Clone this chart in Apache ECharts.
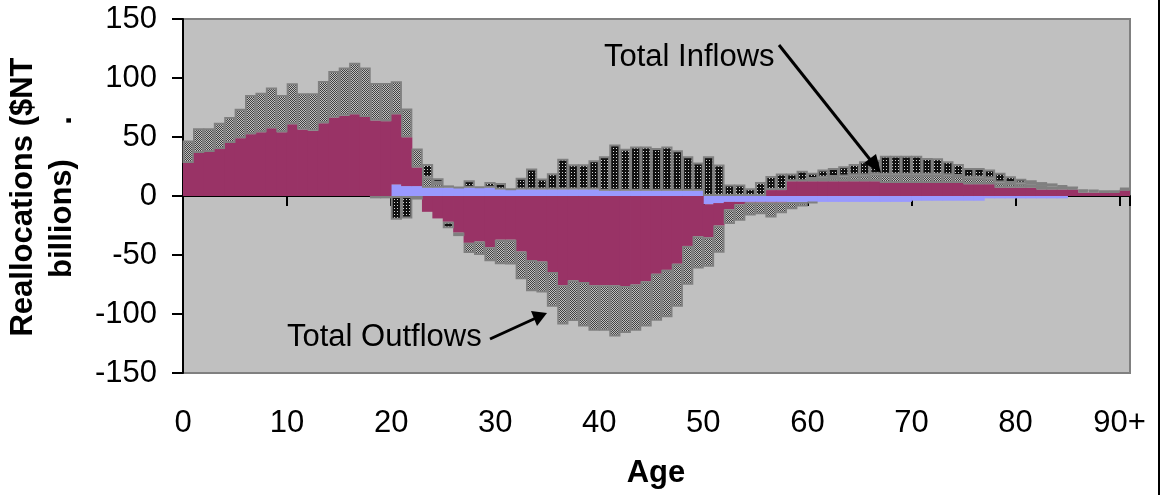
<!DOCTYPE html>
<html>
<head>
<meta charset="utf-8">
<script src="https://cdn.jsdelivr.net/npm/echarts@6/dist/echarts.min.js"></script>
<style>
html,body{margin:0;padding:0;background:#fff;}
#c{width:1161px;height:495px;}
</style>
</head>
<body>
<div id="c"></div>
<script>
// ---------------- data (ages 0..90) ----------------
const ages = Array.from({length: 91}, (_, i) => String(i));
const xTickLabels = ['0','10','20','30','40','50','60','70','80','90+'];
const yTicks = [-150, -100, -50, 0, 50, 100, 150];

// magenta component, inflows (+)
const magentaIn = [28,36.5,37.3,39.8,44.9,49,52.4,54,57.5,54,
  60.8,56.3,55.2,61.7,66.5,68,69.3,67,64,63.4,
  59.5,41.4,15.8,0,0,0,0,0,0,0,
  0,0,0,0,0,0,0,0,0,0,
  0,0,0,0,0,0,0,0,0,0,
  0,0,0,0,0,0,5,5,12.5,12.5,
  12.5,12.5,12.5,12.5,12.5,12.5,12.5,11,11,11,
  11,11,11,11,11,10,10,10,7,7,
  7,7,5.5,5.5,5.5,5.5,2.8,2.8,2.8,2.8,
  4.8];
// magenta component, outflows (-)
const magentaOut = [0,0,0,0,0,0,0,0,0,0,
  0,0,0,0,0,0,0,0,0,0,
  0,0,0,-13.4,-19,-21.8,-31,-39.7,-38.5,-43.4,
  -37,-37,-47,-54.3,-55.5,-64.4,-75.6,-71.4,-72.8,-75.6,
  -75.6,-75.6,-76.2,-75,-72.2,-65.8,-62.6,-57.4,-42.3,-34.1,
  -28,-19,-6.2,-2,-0.5,-0.5,-0.5,-0.5,0,0,
  0,0,0,0,0,0,0,0,0,0,
  0,0,0,0,0,0,0,0,0,0,
  0,0,0,0,0,0,0,0,0,0,
  0];
// blue component, inflows (+)
const blueIn = [0,0,0,0,0,0,0,0,0,0,
  0,0,0,0,0,0,0,0,0,0,
  9.8,8.4,8.4,7,7,7,7,7,7,7,
  5.5,5.5,5.5,5.5,5.5,5.5,5.5,5.5,5.5,5.5,
  4.5,4.5,4.5,4.5,4.5,4.5,4.5,4.5,4.5,4.5,
  0,0,0,0,0,0,0,0,0,0,
  0,0,0,0,0,0,0,0,0,0,
  0,0,0,0,0,0,0,0,0,0,
  0,0,0,0,0,0,0,0,0,0,
  0];
// blue component, outflows (-)
const blueOut = [0,0,0,0,0,0,0,0,0,0,
  0,0,0,0,0,0,0,0,0,0,
  0,0,0,0,0,0,0,0,0,0,
  0,0,0,0,0,0,0,0,0,0,
  0,0,0,0,0,0,0,0,0,0,
  -7,-6,-5,-5,-5,-5,-5,-5,-5,-5,
  -5,-5,-5,-5,-5,-5,-5,-5,-5,-5,
  -4,-4,-4,-4,-4,-4,-4,-2,-2,-2,
  -2,-2,-2,-2,-2,0,0,0,0,0,
  0];
// light checkered component, inflows (+)
const checkIn = [19,21,20.2,22.2,22.1,25,33.1,33.4,34.5,31.5,
  34.7,30.7,31.8,35.8,39.5,41,43.7,42,31.8,32.4,
  28,24.4,16.1,8.4,4,0,0,0,0,0,
  0,0,0,0,0,0,0,0,0,0,
  0,0,0,0,0,0,0,0,0,0,
  0,0,0,0,0,0,0,0,0,0,
  2,3,3.5,4,5,5,6,7,7,7,
  7,7,7,6.5,6,5.5,5.5,5,4.5,4,
  3.5,3,3,2.5,2.5,1.5,1.5,1.5,1,1,
  1];
// light checkered component, outflows (-)
const checkOut = [0,0,0,0,0,0,0,0,0,0,
  0,0,0,0,0,0,0,0,-2,-2,
  0,0,-3,0,0,0,-3,-8.5,-11.5,-12,
  -20.8,-21,-23.6,-26.5,-26.3,-29.4,-33.4,-34.6,-37.8,-38.7,
  -38.7,-43.4,-40,-39.3,-38.4,-40,-40.2,-36.4,-32.9,-27.3,
  -25,-23,-12.6,-14,-11,-9.9,-12.7,-9.1,-6.2,-4,
  -1,0,0,0,0,0,0,0,0,0,
  0,0,0,0,0,0,0,0,0,0,
  0,0,0,0,0,0,0,0,0,0,
  0];
// dark gridded component, inflows (+)
const gridIn = [0,0,0,0,0,0,0,0,0,0,
  0,0,0,0,0,0,0,0,0,0,
  0,0,0,11.8,4,2,0.5,6.3,1,4.8,
  5.5,0.5,9.9,17.8,9.3,13.7,26,21.4,21.4,24.8,
  29.1,39.2,35.5,37.5,37.5,36.2,37.5,34.2,29.1,23.9,
  33.6,26.6,9.8,9.8,6.6,11.9,12,14,6.5,9,
  5.1,6.9,7.8,8.7,9.7,11.9,12.3,16.2,16.2,16.2,
  16.2,14.3,14,11.9,10.2,8.3,8.3,7.4,8.1,5.8,
  4.1,3.4,3.3,2.7,1,0.5,1.3,0.7,0.4,0.4,
  1.2];
// dark gridded component, outflows (-)
const gridOut = [0,0,0,0,0,0,0,0,0,0,
  0,0,0,0,0,0,0,0,0,0,
  -20.2,-19,0,0,0,-5.6,0,0,0,0,
  0,0,0,0,0,0,0,0,0,0,
  0,0,0,0,0,0,0,0,0,0,
  0,0,0,0,0,0,0,0,0,0,
  0,0,0,0,0,0,0,0,0,0,
  0,0,0,0,0,0,0,0,0,0,
  0,0,0,0,0,0,0,0,0,0,
  0];

// ---------------- patterns ----------------
function makePattern(w, h, bg, fg, dots) {
  const cv = document.createElement('canvas');
  cv.width = w; cv.height = h;
  const ctx = cv.getContext('2d');
  ctx.fillStyle = bg; ctx.fillRect(0, 0, w, h);
  ctx.fillStyle = fg;
  dots.forEach(d => ctx.fillRect(d[0], d[1], 1, 1));
  return cv;
}
const checkerCanvas = makePattern(2, 2, '#c0c0c0', '#404040', [[0,0],[1,1]]);
const gridCanvas = makePattern(3, 3, '#111111', '#d8d8d8', [[1,1]]);

const nz = arr => arr.map(v => (v === 0 ? '-' : v));

function barSeries(name, arr, color, border) {
  return {
    name, type: 'bar', stack: 'all', stackStrategy: 'samesign',
    xAxisIndex: 0, yAxisIndex: 0,
    data: nz(arr), barWidth: 11.2, barGap: '0%',
    silent: true, animation: false,
    itemStyle: border
      ? { color, borderColor: '#808080', borderWidth: 2 }
      : { color, borderWidth: 0 }
  };
}

const chart = echarts.init(document.getElementById('c'), null, {renderer: 'canvas'});
const FONT = '"Liberation Sans", Arial, Helvetica, sans-serif';

chart.setOption({
  animation: false,
  backgroundColor: '#ffffff',
  grid: {left: 183, right: 31, top: 19, bottom: 122, show: true,
         backgroundColor: '#c0c0c0', borderColor: '#808080', borderWidth: 2},
  xAxis: [
    { type: 'category', data: ages, boundaryGap: true,
      axisLine: {onZero: true, lineStyle: {color: '#000', width: 2}},
      axisTick: {show: true, length: 10, inside: false,
                 interval: (idx) => idx % 10 === 0,
                 lineStyle: {color: '#000', width: 2}},
      axisLabel: {show: false}, splitLine: {show: false} },
    { type: 'value', min: 0, max: 91, interval: 10, position: 'bottom',
      axisLine: {show: false, onZero: false}, axisTick: {show: false}, splitLine: {show: false},
      axisLabel: {show: true, margin: 35, color: '#000', fontSize: 31, fontFamily: FONT,
                  showMaxLabel: false,
                  formatter: v => { const k = v / 10; return (v % 10 === 0 && k < xTickLabels.length) ? xTickLabels[k] : ''; }} }
  ],
  yAxis: {
    type: 'value', min: yTicks[0], max: yTicks[yTicks.length - 1], interval: 50,
    axisLine: {show: true, onZero: false, lineStyle: {color: '#000', width: 2}},
    axisTick: {show: true, length: 11, lineStyle: {color: '#000', width: 2}},
    axisLabel: {color: '#000', fontSize: 31, fontFamily: FONT, margin: 26},
    splitLine: {show: false}
  },
  series: [
    barSeries('blueIn', blueIn, '#9999ff', false),
    barSeries('blueOut', blueOut, '#9999ff', false),
    barSeries('magentaIn', magentaIn, '#993366', false),
    barSeries('magentaOut', magentaOut, '#993366', false),
    barSeries('checkIn', checkIn, {image: checkerCanvas, repeat: 'repeat'}, true),
    barSeries('checkOut', checkOut, {image: checkerCanvas, repeat: 'repeat'}, true),
    barSeries('gridIn', gridIn, {image: gridCanvas, repeat: 'repeat'}, true),
    barSeries('gridOut', gridOut, {image: gridCanvas, repeat: 'repeat'}, true)
  ],
  graphic: [
    {type: 'text', x: 43, y: 197, rotation: Math.PI / 2, z: 100,
     style: {text: 'Reallocations ($NT\nbillions)    .', font: 'bold 31px ' + FONT,
             fill: '#000', align: 'center', verticalAlign: 'middle', lineHeight: 39}},
    {type: 'text', x: 656, y: 473, z: 100,
     style: {text: 'Age', font: 'bold 31px ' + FONT, fill: '#000', align: 'center', verticalAlign: 'middle'}},
    {type: 'text', x: 604, y: 57, z: 100,
     style: {text: 'Total Inflows', font: '31px ' + FONT, fill: '#000', align: 'left', verticalAlign: 'middle'}},
    {type: 'line', z: 100, shape: {x1: 779, y1: 45, x2: 872, y2: 162}, style: {stroke: '#000', lineWidth: 3}},
    {type: 'polygon', z: 100, shape: {points: [[881, 173], [864, 163], [876, 154]]}, style: {fill: '#000'}},
    {type: 'text', x: 287, y: 337, z: 100,
     style: {text: 'Total Outflows', font: '31px ' + FONT, fill: '#000', align: 'left', verticalAlign: 'middle'}},
    {type: 'line', z: 100, shape: {x1: 490, y1: 339, x2: 536, y2: 318}, style: {stroke: '#000', lineWidth: 3}},
    {type: 'polygon', z: 100, shape: {points: [[547, 313], [531, 311], [537, 326]]}, style: {fill: '#000'}},
    {type: 'rect', z: 100, shape: {x: 1158, y: 0, width: 2, height: 495}, style: {fill: '#000'}}
  ]
});
</script>
</body>
</html>
